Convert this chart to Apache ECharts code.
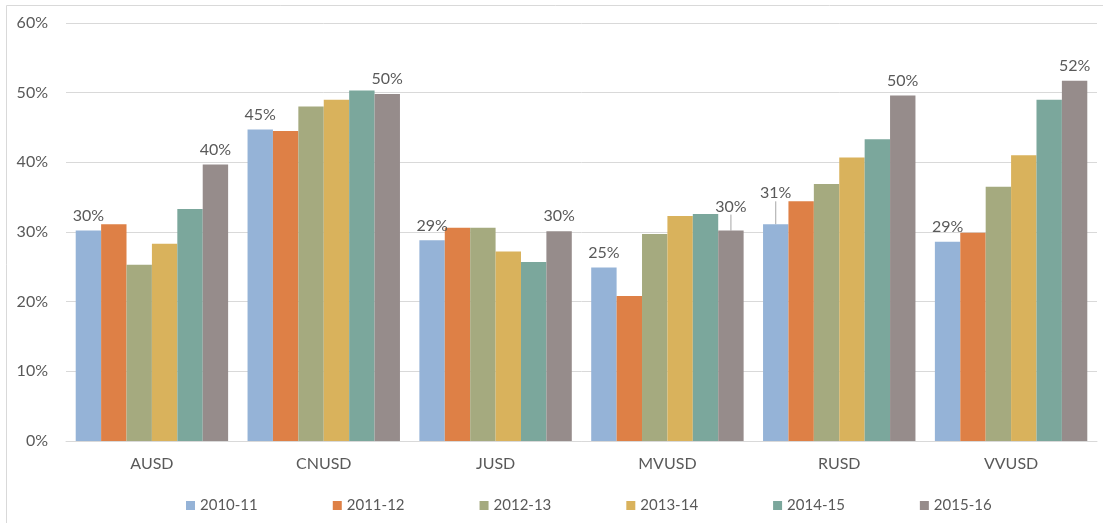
<!DOCTYPE html>
<html>
<head>
<meta charset="utf-8">
<script src="https://cdn.jsdelivr.net/npm/echarts@6/dist/echarts.min.js"></script>
<style>
  html, body { margin: 0; padding: 0; background: #fff; }
  #chart { width: 1103px; height: 523px; }
</style>
</head>
<body>
<div id="chart"></div>
<script>
// districts on the x axis
var districts = ["AUSD", "CNUSD", "JUSD", "MVUSD", "RUSD", "VVUSD"];
var years = ["2010-11", "2011-12", "2012-13", "2013-14", "2014-15", "2015-16"];
var yTicks = [0, 10, 20, 30, 40, 50, 60];

// percent values, one array per school year
var y2010 = [30.2, 44.7, 28.8, 24.9, 31.1, 28.6];
var y2011 = [31.1, 44.5, 30.6, 20.8, 34.4, 29.9];
var y2012 = [25.3, 48.0, 30.6, 29.7, 36.9, 36.5];
var y2013 = [28.3, 49.0, 27.2, 32.3, 40.7, 41.0];
var y2014 = [33.3, 50.3, 25.7, 32.6, 43.3, 49.0];
var y2015 = [39.7, 49.8, 30.1, 30.2, 49.6, 51.7];

var colors = ["#95b3d7", "#de8046", "#a5aa7f", "#d9b25c", "#7ba79c", "#968c8b"];
var textColor = "#595959";
var font = "Lato, 'Open Sans', sans-serif";

var allData = [y2010, y2011, y2012, y2013, y2014, y2015];

// only the first and the last year carry labels
var labelled = { 0: true, 5: true };
// labels that are lifted with a leader line (series index -> data index -> dy)
var lifted = { 0: { 4: -16 }, 5: { 3: -9 } };

var series = allData.map(function (arr, s) {
  var moved = lifted[s] || {};
  return {
    name: years[s],
    type: "bar",
    data: arr.map(function (v, i) {
      if (moved[i]) {
        return { value: v, labelLine: { show: true } };
      }
      return v;
    }),
    barGap: "0%",
    barCategoryGap: "11.3%",
    itemStyle: { color: colors[s] },
    label: {
      show: !!labelled[s],
      position: "top",
      distance: 7,
      color: textColor,
      fontFamily: font,
      fontSize: 16,
      formatter: function (p) { return Math.round(p.value) + "%"; }
    },
    labelLayout: function (p) {
      var dy = moved[p.dataIndex];
      if (dy) return { dy: dy };
      return {};
    },
    labelLine: { show: false, lineStyle: { color: "#a6a6a6", width: 1 }, length2: 0 }
  };
});

var myChart = echarts.init(document.getElementById("chart"));
var option = {
  animation: false,
  color: colors,
  textStyle: { fontFamily: font },
  grid: { left: 66, right: 6, top: 23, bottom: 82 },
  graphic: [{
    type: "rect",
    shape: { x: 6.5, y: 5.5, width: 1200, height: 600 },
    style: { fill: "none", stroke: "#d9d9d9", lineWidth: 1 },
    silent: true
  }],
  legend: {
    data: years,
    bottom: 5,
    left: 181,
    itemWidth: 9,
    itemHeight: 9,
    itemGap: 75,
    icon: "rect",
    textStyle: { color: textColor, fontSize: 15, fontFamily: font }
  },
  xAxis: {
    type: "category",
    data: districts,
    axisTick: { show: false },
    axisLine: { lineStyle: { color: "#d9d9d9" } },
    axisLabel: { color: textColor, fontSize: 16, fontFamily: font, margin: 15 }
  },
  yAxis: {
    type: "value",
    min: yTicks[0],
    max: yTicks[yTicks.length - 1],
    interval: 10,
    axisLine: { show: false },
    axisTick: { show: false },
    splitLine: { lineStyle: { color: "#d9d9d9" } },
    axisLabel: { color: textColor, fontSize: 16, fontFamily: font, margin: 18, formatter: "{value}%" }
  },
  series: series
};
myChart.setOption(option);
</script>
</body>
</html>
